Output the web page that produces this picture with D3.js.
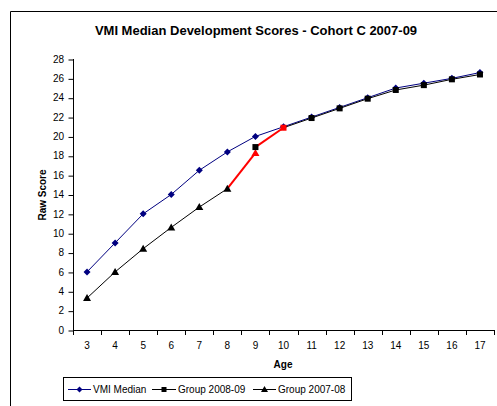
<!DOCTYPE html>
<html><head><meta charset="utf-8">
<script src="https://cdn.jsdelivr.net/npm/d3@7"></script>
<style>body{margin:0;background:#fff;} svg{display:block;font-family:Arial,"Liberation Sans",sans-serif;}</style>
</head><body>
<script>
const ages = [3,4,5,6,7,8,9,10,11,12,13,14,15,16,17];
const vmiMedian = [6,9,12,14,16.5,18.4,20,21,22,23,24,25,25.5,26,26.6];
const group0809Ages = [9,10,11,12,13,14,15,16,17];
const group0809 = [18.9,20.9,21.9,22.9,23.9,24.8,25.3,25.9,26.4];
const group0708Ages = [3,4,5,6,7,8,9];
const group0708 = [3.3,6,8.4,10.6,12.7,14.6,18.3];
const highlight0809 = [10];
const highlight0708 = [9];
const yTicks = [0,2,4,6,8,10,12,14,16,18,20,22,24,26,28];
const title = "VMI Median Development Scores - Cohort C 2007-09";

const W=497,H=406;
const svg=d3.select("body").append("svg").attr("width",W).attr("height",H);
svg.append("rect").attr("width",W).attr("height",H).attr("fill","#fff");
svg.append("path").attr("d","M10.5,"+(H+5)+"V11.5H"+(W+5)).attr("fill","none").attr("stroke","#000").attr("stroke-width",1);

const x=d3.scaleBand().domain(ages).range([73,494]);
const y=d3.scaleLinear().domain([0,28]).range([330,59]);
const cx=a=>x(a)+x.bandwidth()/2;

svg.append("text").attr("x",256).attr("y",35).attr("text-anchor","middle").attr("font-size",13).attr("font-weight","bold").text(title);

// y axis
const ya=svg.append("g").attr("transform","translate(73,0)").call(d3.axisLeft(y).tickValues(yTicks).tickSize(5).tickPadding(4).tickFormat(d3.format("d")));
ya.select(".domain").attr("d","M0.5,"+y(28)+"V"+y(0));
ya.selectAll("text").attr("font-size",10).attr("font-family","Arial,'Liberation Sans',sans-serif").attr("fill","#000");
ya.selectAll("line").attr("stroke","#000").attr("transform","translate(0.5,0.5)");

// x axis
const xa=svg.append("g").attr("transform","translate(0,330)").call(d3.axisBottom(x).tickSize(0).tickPadding(12));
xa.select(".domain").attr("d","M73,0.5H494");
xa.selectAll("text").attr("font-size",10).attr("font-family","Arial,'Liberation Sans',sans-serif").attr("fill","#000");
const bounds=ages.map(a=>x(a)).concat([x(17)+x.bandwidth()]);
xa.selectAll(".bt").data(bounds).join("line").attr("class","bt")
  .attr("x1",d=>Math.round(d)+0.5).attr("x2",d=>Math.round(d)+0.5).attr("y1",0).attr("y2",5).attr("stroke","#000");

svg.append("text").attr("transform","translate(46,195) rotate(-90)").attr("text-anchor","middle").attr("font-size",10).attr("font-weight","bold").text("Raw Score");
svg.append("text").attr("x",283).attr("y",368).attr("text-anchor","middle").attr("font-size",10).attr("font-weight","bold").text("Age");

const navy="#000080", red="#ff0000";
function series(xs, ys, color, hl, marker){
  const pts=xs.map((a,i)=>({a,v:ys[i],red:hl.includes(a)}));
  for(let i=1;i<pts.length;i++){
    const p0=pts[i-1],p1=pts[i];
    svg.append("line").attr("x1",cx(p0.a)).attr("y1",y(p0.v)).attr("x2",cx(p1.a)).attr("y2",y(p1.v))
      .attr("stroke",p1.red?red:color).attr("stroke-width",p1.red?2:1);
  }
  pts.forEach(p=>drawMarker(marker,cx(p.a),y(p.v),p.red?red:color));
}
function drawMarker(type,px,py,col){
  if(type==="diamond") svg.append("path").attr("d",`M${px},${py-3.5}L${px+3.5},${py}L${px},${py+3.5}L${px-3.5},${py}Z`).attr("fill",col);
  else if(type==="square") svg.append("rect").attr("x",px-3).attr("y",py-3).attr("width",6).attr("height",6).attr("fill",col);
  else svg.append("path").attr("d",`M${px},${py-4}L${px+4},${py+3}L${px-4},${py+3}Z`).attr("fill",col);
}
series(ages, vmiMedian, navy, [], "diamond");
series(group0708Ages, group0708, "#000", highlight0708, "triangle");
series(group0809Ages, group0809, "#000", highlight0809, "square");

// legend
svg.append("rect").attr("x",63.5).attr("y",377.5).attr("width",288).attr("height",23).attr("fill","#fff").attr("stroke","#000");
const leg=[{n:"VMI Median",c:navy,m:"diamond",x1:68,x2:91,tx:93},{n:"Group 2008-09",c:"#000",m:"square",x1:152,x2:176,tx:178},{n:"Group 2007-08",c:"#000",m:"triangle",x1:253,x2:276,tx:278}];
leg.forEach(l=>{
  svg.append("line").attr("x1",l.x1).attr("x2",l.x2).attr("y1",389.5).attr("y2",389.5).attr("stroke",l.c);
  const mx=(l.x1+l.x2)/2;
  if(l.m==="diamond") svg.append("path").attr("d",`M${mx},386.5L${mx+3},389.5L${mx},392.5L${mx-3},389.5Z`).attr("fill",l.c);
  else if(l.m==="square") svg.append("rect").attr("x",mx-2.5).attr("y",387).attr("width",5).attr("height",5).attr("fill",l.c);
  else svg.append("path").attr("d",`M${mx},386L${mx+3.5},392L${mx-3.5},392Z`).attr("fill",l.c);
  svg.append("text").attr("x",l.tx).attr("y",393).attr("font-size",10).text(l.n);
});
</script>
</body></html>
